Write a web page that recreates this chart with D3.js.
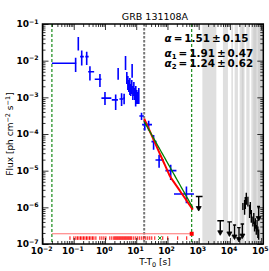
<!DOCTYPE html>
<html>
<head>
<meta charset="utf-8">
<script src="https://cdn.jsdelivr.net/npm/d3@7"></script>
<style>
  body { margin: 0; background: #fff; }
  svg { display: block; }
  text { font-family: "DejaVu Sans", sans-serif; }
</style>
</head>
<body>
<div id="chart"></div>
<script>
/* Data
-----------------------------------------------------------------------------*/
const title = 'GRB 131108A';

// [t, tLo, tHi, flux, fluxLo, fluxHi]
const lightCurve = [
  [0.115, 0.02, 0.12, 8.5e-3, 4.9e-3, 1.2e-2],
  [0.14, 0.138, 0.142, 3.0e-2, 1.9e-2, 4.4e-2],
  [0.18, 0.16, 0.21, 1.29e-2, 7.4e-3, 1.9e-2],
  [0.26, 0.235, 0.3, 1.29e-2, 7.6e-3, 1.76e-2],
  [0.33, 0.29, 0.45, 5.0e-3, 2.9e-3, 7.0e-3],
  [0.69, 0.47, 0.77, 3.1e-3, 1.9e-3, 4.3e-3],
  [1.0, 0.77, 1.6, 9.5e-4, 6.2e-4, 1.4e-3],
  [2.2, 1.65, 2.6, 8.5e-4, 4.5e-4, 1.2e-3],
  [2.64, 2.64, 2.64, 4.4e-3, 3.0e-3, 6.3e-3],
  [3.4, 2.9, 3.9, 9.0e-4, 5.8e-4, 1.3e-3],
  [4.1, 3.9, 4.3, 9.5e-4, 6.5e-4, 1.25e-3],
  [4.55, 4.55, 4.55, 8.7e-3, 5.6e-3, 1.35e-2],
  [5.0, 5.0, 5.0, 3.38e-3, 2.32e-3, 4.92e-3],
  [5.4, 5.4, 5.4, 2.47e-3, 1.59e-3, 3.83e-3],
  [5.8, 5.8, 5.8, 2.05e-3, 1.4e-3, 2.98e-3],
  [6.25, 6.25, 6.25, 2.0e-3, 1.16e-3, 3.38e-3],
  [6.7, 6.7, 6.7, 1.59e-3, 1.09e-3, 2.32e-3],
  [7.2, 7.2, 7.2, 1.92e-3, 1.24e-3, 2.98e-3],
  [7.4, 7.4, 7.4, 5.2e-3, 3.4e-3, 8.1e-3],
  [7.8, 7.8, 7.8, 1.32e-3, 8.5e-4, 2.05e-3],
  [8.4, 8.4, 8.4, 1.69e-3, 1.09e-3, 2.63e-3],
  [9.0, 9.0, 9.0, 1.24e-3, 8.5e-4, 1.8e-3],
  [9.6, 9.3, 9.9, 7.6e-4, 5.6e-4, 8.5e-4],
  [9.7, 9.7, 9.7, 1.24e-3, 7.5e-4, 2.05e-3],
  [10.4, 10.4, 10.4, 1.03e-3, 6.6e-4, 1.59e-3],
  [11.2, 11.2, 11.2, 9.6e-4, 6.6e-4, 1.4e-3],
  [12.1, 12.1, 12.1, 1.09e-3, 6.6e-4, 1.8e-3],
  [14.8, 12.6, 17.6, 3.1e-4, 2.4e-4, 3.8e-4],
  [18.8, 15.5, 24, 1.8e-4, 1.24e-4, 2.3e-4],
  [25, 21.3, 32, 1.8e-4, 1.24e-4, 2.3e-4],
  [36, 30.8, 44.6, 6.2e-5, 3.7e-5, 9.4e-5],
  [54, 41.4, 76, 1.95e-5, 1.2e-5, 2.7e-5],
  [127, 86, 194, 1.0e-5, 5.6e-6, 1.44e-5],
  [405, 162, 705, 2.3e-6, 1.3e-6, 3.7e-6],
];

// [t, flux, fluxLo, fluxHi]
const lateDetections = [
  [26000, 1.1e-6, 8.5e-7, 1.32e-6],
  [29500, 1.0e-6, 6.3e-7, 1.58e-6],
  [31000, 1.3e-6, 9.0e-7, 1.9e-6],
  [33400, 1.7e-6, 1.17e-6, 2.5e-6],
  [37600, 1.45e-6, 1.05e-6, 1.95e-6],
  [42600, 7.8e-7, 5.1e-7, 1.17e-6],
  [45000, 9.5e-7, 6.5e-7, 1.4e-6],
  [48300, 5.6e-7, 3.8e-7, 8.5e-7],
  [54300, 4.1e-7, 3.0e-7, 5.6e-7],
  [58000, 5.0e-7, 3.5e-7, 7.0e-7],
  [61500, 3.0e-7, 2.2e-7, 4.1e-7],
  [65000, 3.6e-7, 2.6e-7, 5.0e-7],
  [69700, 2.45e-7, 1.78e-7, 3.3e-7],
  [74000, 3.2e-7, 2.2e-7, 4.5e-7],
  [78500, 2.1e-7, 1.45e-7, 3.0e-7],
  [83000, 1.8e-7, 1.3e-7, 2.5e-7],
];

// [t, tLo, tHi, flux upper limit]
const upperLimits = [
  [1000, 810, 1330, 1.97e-6],
  [4900, 3950, 6430, 4.3e-7],
  [9600, 8260, 11600, 4.0e-7],
  [14000, 12600, 15800, 3.3e-7],
  [19500, 17000, 22000, 2.8e-7],
  [25000, 22000, 28400, 3.5e-7],
  [83000, 74000, 92000, 1.05e-6],
];

// shaded time intervals [start, end]
const shadedIntervals = [
  [1313, 3675],
  [5970, 8630],
  [11090, 12470],
  [14130, 18030],
  [20400, 29500],
  [24000, 27000],
  [33400, 42600],
  [48300, 120000],
  [56000, 70000],
  [80000, 120000],
];

// photon arrival times
const photonTimes = [
  0.0757, 0.101, 0.117, 0.131, 0.147, 0.164, 0.183, 0.204, 0.228, 0.255,
  0.284, 0.318, 0.355, 0.396, 0.442, 0.512, 0.687, 0.796, 0.923, 1.07,
  1.43, 1.66, 1.92, 2.07, 2.23, 2.4, 2.58, 2.78, 2.99, 3.22, 3.47, 3.73,
  4.02, 4.32, 4.65, 5.01, 5.39, 5.8, 6.25, 6.72, 7.23, 8.38, 9.7, 11.2,
  13.0, 15.1, 17.5, 20.3, 23.5, 27.2, 31.5, 39.3, 70.8, 102, 213, 414,
];
const highEnergyTimes = [57];

const timeWindow = [0.02, 597];
const tZero = 18;
const windowLevel = 1.9e-7;
const photonLevel = 1.45e-7;

// fits
const singleFit = { t0: 18, f0: 2.19e-4, alpha: 1.51, tEnd: 650 };
const brokenFit = { t0: 18, f0: 2.63e-4, tBreak: 120, a1: 1.91, a2: 1.24, tEnd: 650 };
const fitLabels = [
  ['α', '', '1.51', '0.15'],
  ['α', '1', '1.91', '0.47'],
  ['α', '2', '1.24', '0.62'],
];

const xTicks = [1e-2, 1e-1, 1e0, 1e1, 1e2, 1e3, 1e4, 1e5];
const yTicks = [1e-7, 1e-6, 1e-5, 1e-4, 1e-3, 1e-2, 1e-1];

/* Setup
-----------------------------------------------------------------------------*/
const width = 269;
const height = 271;
const plotLeft = 42.5, plotRight = 263.3, plotTop = 24, plotBottom = 244;

const svg = d3
  .select('#chart')
  .append('svg')
  .attr('width', width)
  .attr('height', height)
  .attr('xmlns', 'http://www.w3.org/2000/svg');

const x = d3.scaleLog().domain([1e-2, 1.17e5]).range([plotLeft, plotRight]);
const y = d3.scaleLog().domain([1e-7, 1e-1]).range([plotBottom, plotTop]);

svg.append('clipPath').attr('id', 'plotClip')
  .append('rect')
  .attr('x', plotLeft).attr('y', plotTop)
  .attr('width', plotRight - plotLeft).attr('height', plotBottom - plotTop);

const plot = svg.append('g').attr('clip-path', 'url(#plotClip)');

/* Shading and reference lines
-----------------------------------------------------------------------------*/
plot.append('g')
  .selectAll('rect')
  .data(shadedIntervals)
  .join('rect')
  .attr('x', (d) => x(d[0]))
  .attr('width', (d) => x(Math.min(d[1], 1.17e5)) - x(d[0]))
  .attr('y', plotTop)
  .attr('height', plotBottom - plotTop)
  .attr('fill', '#c4c4c4')
  .attr('opacity', 0.55);

timeWindow.forEach((t) => {
  plot.append('line')
    .attr('x1', x(t)).attr('x2', x(t))
    .attr('y1', plotTop).attr('y2', plotBottom)
    .attr('stroke', 'green')
    .attr('stroke-width', 1.1)
    .attr('stroke-dasharray', '3,2');
});

plot.append('line')
  .attr('x1', x(tZero)).attr('x2', x(tZero))
  .attr('y1', plotTop).attr('y2', plotBottom)
  .attr('stroke', '#777')
  .attr('stroke-width', 2)
  .attr('stroke-dasharray', '2.5,1.5');

/* Photons
-----------------------------------------------------------------------------*/
plot.append('line')
  .attr('x1', x(timeWindow[0])).attr('x2', x(timeWindow[1]))
  .attr('y1', y(windowLevel)).attr('y2', y(windowLevel))
  .attr('stroke', '#ff7070')
  .attr('stroke-width', 1);

plot.append('rect')
  .attr('x', x(timeWindow[1]) - 2).attr('y', y(windowLevel) - 2)
  .attr('width', 4).attr('height', 4)
  .attr('fill', 'red');

plot.append('g')
  .selectAll('line')
  .data(photonTimes)
  .join('line')
  .attr('x1', (d) => x(d)).attr('x2', (d) => x(d))
  .attr('y1', y(photonLevel) - 1.8).attr('y2', y(photonLevel) + 1.8)
  .attr('stroke', 'red')
  .attr('stroke-width', 1);

highEnergyTimes.forEach((t) => {
  const cx = x(t), cy = y(photonLevel);
  plot.append('path')
    .attr('d', `M${cx - 1.8},${cy - 1.8}L${cx + 1.8},${cy + 1.8}M${cx - 1.8},${cy + 1.8}L${cx + 1.8},${cy - 1.8}`)
    .attr('stroke', 'green')
    .attr('stroke-width', 1);
});

/* Light curve
-----------------------------------------------------------------------------*/
const lc = plot.append('g').attr('stroke', 'blue').attr('stroke-width', 1.6);
lightCurve.forEach((d) => {
  const [t, tLo, tHi, f, fLo, fHi] = d;
  lc.append('line')
    .attr('x1', x(t)).attr('x2', x(t))
    .attr('y1', y(fLo)).attr('y2', y(fHi));
  if (tLo !== tHi) {
    lc.append('line')
      .attr('x1', x(tLo)).attr('x2', x(tHi))
      .attr('y1', y(f)).attr('y2', y(f));
  }
});

/* Fits
-----------------------------------------------------------------------------*/
const fitLine = d3.line().x((d) => x(d[0])).y((d) => y(d[1]));
const fitTimes = d3.range(0, 41).map((i) =>
  singleFit.t0 * Math.pow(singleFit.tEnd / singleFit.t0, i / 40));

function brokenFlux(t) {
  const b = brokenFit;
  if (t <= b.tBreak) return b.f0 * Math.pow(t / b.t0, -b.a1);
  const fb = b.f0 * Math.pow(b.tBreak / b.t0, -b.a1);
  return fb * Math.pow(t / b.tBreak, -b.a2);
}

plot.append('path')
  .attr('d', fitLine(fitTimes.map((t) => [t, brokenFlux(t)])))
  .attr('fill', 'none')
  .attr('stroke', 'red')
  .attr('stroke-width', 2);

plot.append('path')
  .attr('d', fitLine(fitTimes.map((t) =>
    [t, singleFit.f0 * Math.pow(t / singleFit.t0, -singleFit.alpha)])))
  .attr('fill', 'none')
  .attr('stroke', 'green')
  .attr('stroke-width', 1.3);

/* Late data
-----------------------------------------------------------------------------*/
const late = plot.append('g').attr('stroke', 'black').attr('stroke-width', 1.4);
lateDetections.forEach((d) => {
  const [t, f, fLo, fHi] = d;
  late.append('line')
    .attr('x1', x(t)).attr('x2', x(t))
    .attr('y1', y(fLo)).attr('y2', y(fHi));
});

upperLimits.forEach((d) => {
  const [t, tLo, tHi, f] = d;
  const cx = x(t), cy = y(f);
  late.append('line')
    .attr('x1', x(tLo)).attr('x2', x(tHi))
    .attr('y1', cy).attr('y2', cy);
  late.append('line')
    .attr('x1', cx).attr('x2', cx)
    .attr('y1', cy).attr('y2', cy + 12);
  late.append('path')
    .attr('d', `M${cx - 2.5},${cy + 10}L${cx + 2.5},${cy + 10}L${cx},${cy + 14.5}Z`)
    .attr('fill', 'black')
    .attr('stroke-width', 0.8);
});

/* Axes
-----------------------------------------------------------------------------*/
function minorTicks(scale) {
  const [lo, hi] = scale.domain();
  const out = [];
  for (let e = Math.floor(Math.log10(lo)); e <= Math.ceil(Math.log10(hi)); e++) {
    for (let m = 2; m <= 9; m++) {
      const v = m * Math.pow(10, e);
      if (v >= lo && v <= hi) out.push(v);
    }
  }
  return out;
}

function drawAxis(axisFn, scale, ticks, size, transform) {
  const g = svg.append('g')
    .attr('transform', transform)
    .call(axisFn(scale).tickValues(ticks).tickSize(size).tickFormat(''));
  g.select('.domain').remove();
  g.selectAll('line').attr('stroke', 'black').attr('stroke-width', 0.8);
}

[
  [d3.axisBottom, x, `translate(0,${plotBottom})`],
  [d3.axisTop, x, `translate(0,${plotTop})`],
  [d3.axisLeft, y, `translate(${plotLeft},0)`],
  [d3.axisRight, y, `translate(${plotRight},0)`],
].forEach(([fn, scale, tr]) => {
  drawAxis(fn, scale, scale === x ? xTicks : yTicks, -6, tr);
  drawAxis(fn, scale, minorTicks(scale), -3, tr);
});

svg.append('rect')
  .attr('x', plotLeft).attr('y', plotTop)
  .attr('width', plotRight - plotLeft).attr('height', plotBottom - plotTop)
  .attr('fill', 'none')
  .attr('stroke', 'black')
  .attr('stroke-width', 1.5);

function powerLabel(sel, v) {
  const e = Math.round(Math.log10(v));
  sel.append('tspan').text('10');
  sel.append('tspan')
    .attr('dy', -3.5)
    .attr('font-size', 6.2)
    .text(e < 0 ? '\u2212' + Math.abs(e) : String(e));
}

svg.append('g')
  .selectAll('text')
  .data(xTicks)
  .join('text')
  .attr('x', (d) => x(d) - 0.8)
  .attr('y', 254)
  .attr('text-anchor', 'middle')
  .attr('font-size', 8.8)
  .attr('font-weight', 'bold')
  .each(function (d) { powerLabel(d3.select(this), d); });

svg.append('g')
  .selectAll('text')
  .data(yTicks)
  .join('text')
  .attr('x', 38.5)
  .attr('y', (d) => y(d) + 3.3)
  .attr('text-anchor', 'end')
  .attr('font-size', 9)
  .attr('font-weight', 'bold')
  .each(function (d) { powerLabel(d3.select(this), d); });

/* Labels
-----------------------------------------------------------------------------*/
svg.append('text')
  .attr('x', 155)
  .attr('y', 20)
  .attr('text-anchor', 'middle')
  .attr('font-size', 9.5)
  .text(title);

const xLabel = svg.append('text')
  .attr('x', 155)
  .attr('y', 265)
  .attr('text-anchor', 'middle')
  .attr('font-size', 9);
xLabel.append('tspan').text('T-T');
xLabel.append('tspan').attr('dy', 2).attr('font-size', 6.5).text('0');
xLabel.append('tspan').attr('dy', -2).text(' [s]');

const yLabel = svg.append('text')
  .attr('transform', 'translate(13,134) rotate(-90)')
  .attr('text-anchor', 'middle')
  .attr('font-size', 9);
yLabel.append('tspan').text('Flux [ph cm');
yLabel.append('tspan').attr('dy', -3.5).attr('font-size', 6.5).text('\u22122');
yLabel.append('tspan').attr('dy', 3.5).text(' s');
yLabel.append('tspan').attr('dy', -3.5).attr('font-size', 6.5).text('\u22121');
yLabel.append('tspan').attr('dy', 3.5).text(']');

const labelBaselines = [42, 56.5, 67];
fitLabels.forEach(([sym, sub, val, err], i) => {
  const t = svg.append('text')
    .attr('x', 164.5)
    .attr('y', labelBaselines[i])
    .attr('font-size', 10.4)
    .attr('font-weight', 'bold');
  t.append('tspan').attr('font-style', 'italic').text(sym);
  if (sub) {
    t.append('tspan').attr('dy', 2).attr('font-size', 7).text(sub);
    t.append('tspan').attr('dy', -2).attr('dx', 2).text('=');
  } else {
    t.append('tspan').attr('dx', 2).text('=');
  }
  t.append('tspan').attr('dx', 2).text(val);
  t.append('tspan').attr('dx', 2).text('±');
  t.append('tspan').attr('dx', 2).text(err);
});
</script>
</body>
</html>
